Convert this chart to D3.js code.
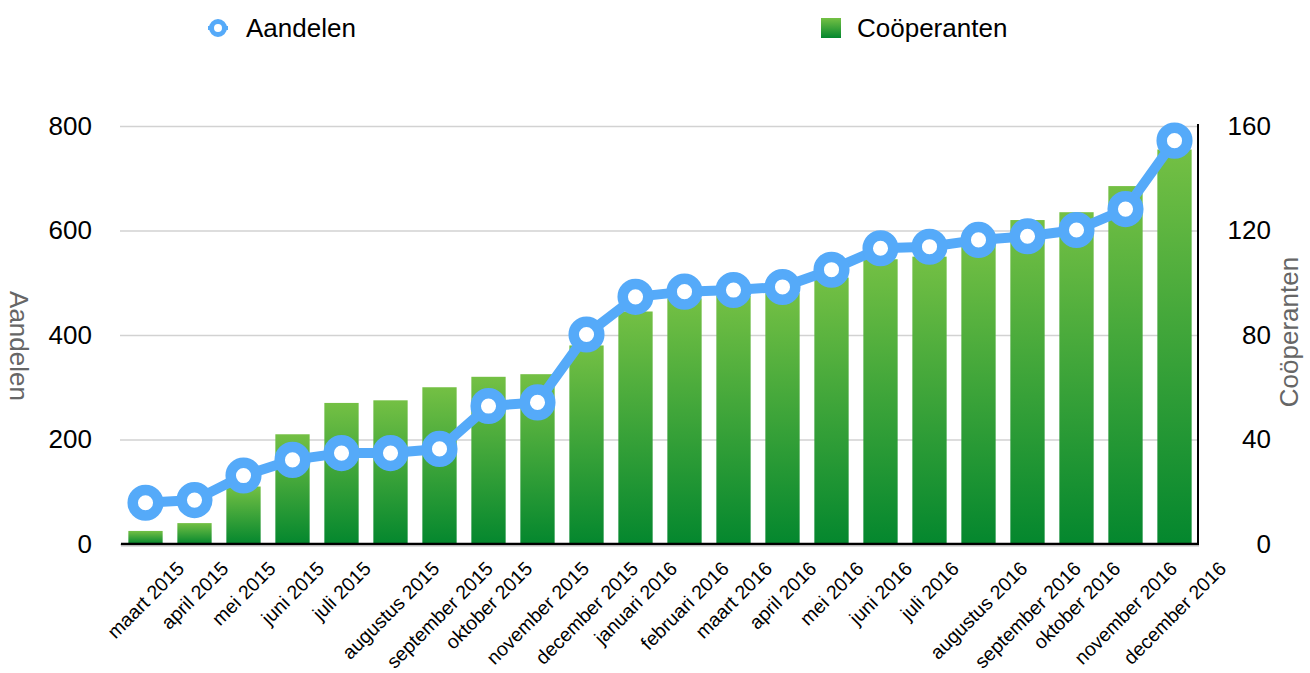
<!DOCTYPE html>
<html>
<head>
<meta charset="utf-8">
<script src="https://cdn.jsdelivr.net/npm/d3@7"></script>
<style>
  html, body { margin: 0; padding: 0; background: #fff; }
  svg { display: block; font-family: "Liberation Sans", Arial, Helvetica, sans-serif; }
</style>
</head>
<body>
<div id="chart"></div>
<script>
// month labels along the bottom
var months = ['maart 2015', 'april 2015', 'mei 2015', 'juni 2015', 'juli 2015',
  'augustus 2015', 'september 2015', 'oktober 2015', 'november 2015', 'december 2015',
  'januari 2016', 'februari 2016', 'maart 2016', 'april 2016', 'mei 2016',
  'juni 2016', 'juli 2016', 'augustus 2016', 'september 2016', 'oktober 2016',
  'november 2016', 'december 2016'];

// line series (left axis)
var aandelen = [79, 84, 131, 161, 174, 174, 182, 264, 271, 401, 473, 483,
  486, 492, 525, 566, 569, 582, 589, 601, 641, 772];

// bar series (right axis)
var cooperanten = [5, 8, 22, 42, 54, 55, 60, 64, 65, 76, 89, 94,
  95, 96, 102, 109, 110, 116, 124, 127, 137, 151];

var leftTicks = [0, 200, 400, 600, 800];
var rightTicks = [0, 40, 80, 120, 160];

var W = 1310, H = 673;
var plotLeft = 121, plotRight = 1199, plotTop = 126, plotBottom = 544;

var svg = d3.select('#chart').append('svg')
  .attr('width', W)
  .attr('height', H);

var defs = svg.append('defs');
var grad = defs.append('linearGradient')
  .attr('id', 'barGrad')
  .attr('x1', 0).attr('y1', 0).attr('x2', 0).attr('y2', 1);
grad.append('stop').attr('offset', '0%').attr('stop-color', '#74c044');
grad.append('stop').attr('offset', '100%').attr('stop-color', '#04872e');

var x = d3.scaleBand()
  .domain(months)
  .range([plotLeft, plotRight])
  .paddingInner(0.3)
  .paddingOuter(0.15);

var yL = d3.scaleLinear().domain([0, 800]).range([plotBottom, plotTop]);
var yR = d3.scaleLinear().domain([0, 160]).range([plotBottom, plotTop]);

// gridlines + left tick labels
var gL = svg.append('g')
  .attr('transform', 'translate(' + (plotLeft - 1) + ',0)')
  .call(d3.axisLeft(yL).tickValues(leftTicks).tickSize(-(plotRight - plotLeft)).tickPadding(28));
gL.select('.domain').remove();
gL.selectAll('line').attr('stroke', '#d2d2d2').attr('stroke-width', 1.5);
gL.selectAll('text')
  .attr('font-size', 26)
  .attr('fill', '#000');

// bars
svg.append('g').selectAll('rect')
  .data(cooperanten)
  .enter()
  .append('rect')
  .attr('x', function(d, i) { return x(months[i]); })
  .attr('width', x.bandwidth())
  .attr('y', function(d) { return yR(d); })
  .attr('height', function(d) { return yR(0) - yR(d); })
  .attr('fill', 'url(#barGrad)');

// right axis
var gR = svg.append('g')
  .attr('transform', 'translate(' + (plotRight - 1) + ',0)')
  .call(d3.axisRight(yR).tickValues(rightTicks).tickSize(0));
gR.select('.domain')
  .attr('d', 'M0,' + (plotTop - 2) + 'V' + (plotBottom + 1))
  .attr('stroke', '#000')
  .attr('stroke-width', 2);
gR.selectAll('text')
  .attr('font-size', 26)
  .attr('fill', '#000')
  .attr('text-anchor', 'end')
  .attr('x', 73);

// bottom axis
var xFont = 19.5;
var gX = svg.append('g')
  .attr('transform', 'translate(0,' + plotBottom + ')')
  .call(d3.axisBottom(x).tickSize(0));
gX.select('.domain')
  .attr('d', 'M' + plotLeft + ',0H' + plotRight)
  .attr('stroke', '#000')
  .attr('stroke-width', 2.5);
svg.append('line')
  .attr('x1', plotLeft).attr('x2', plotRight)
  .attr('y1', plotBottom + 2).attr('y2', plotBottom + 2)
  .attr('stroke', '#bbb').attr('stroke-width', 1);
gX.selectAll('text')
  .attr('font-size', xFont)
  .attr('fill', '#000')
  .attr('text-anchor', 'end')
  .attr('y', 0)
  .attr('dy', 0)
  .attr('transform', function() {
    var L = this.getComputedTextLength();
    var h = 0.72 * xFont;
    var ax = 0.7071 * (L + h) / 2;
    var ay = 16 + 0.7071 * h;
    return 'translate(' + ax + ',' + ay + ') rotate(-45)';
  });

// line + markers
var blue = '#55aaf9';
var line = d3.line()
  .x(function(d, i) { return x(months[i]) + x.bandwidth() / 2; })
  .y(function(d) { return yL(d); });

svg.append('path')
  .datum(aandelen)
  .attr('d', line)
  .attr('fill', 'none')
  .attr('stroke', blue)
  .attr('stroke-width', 10)
  .attr('stroke-linejoin', 'round');

svg.append('g').selectAll('circle')
  .data(aandelen)
  .enter()
  .append('circle')
  .attr('cx', function(d, i) { return x(months[i]) + x.bandwidth() / 2; })
  .attr('cy', function(d) { return yL(d); })
  .attr('r', 12.8)
  .attr('fill', '#fff')
  .attr('stroke', blue)
  .attr('stroke-width', 10.5);

// axis titles
svg.append('text')
  .attr('transform', 'translate(19,346) rotate(90)')
  .attr('text-anchor', 'middle')
  .attr('dy', '0.35em')
  .attr('font-size', 26)
  .attr('fill', '#666')
  .text('Aandelen');

svg.append('text')
  .attr('transform', 'translate(1289,332) rotate(-90)')
  .attr('text-anchor', 'middle')
  .attr('dy', '0.35em')
  .attr('font-size', 26)
  .attr('fill', '#666')
  .text('Coöperanten');

// legend
var lg = svg.append('g');
lg.append('line')
  .attr('x1', 208).attr('x2', 228)
  .attr('y1', 28).attr('y2', 28)
  .attr('stroke', blue).attr('stroke-width', 4);
lg.append('circle')
  .attr('cx', 218).attr('cy', 28).attr('r', 6.5)
  .attr('fill', '#fff')
  .attr('stroke', blue).attr('stroke-width', 5);
lg.append('text')
  .attr('x', 246).attr('y', 37)
  .attr('font-size', 26)
  .text('Aandelen');

lg.append('rect')
  .attr('x', 821).attr('y', 18)
  .attr('width', 20).attr('height', 20)
  .attr('fill', 'url(#barGrad)');
lg.append('text')
  .attr('x', 857).attr('y', 37)
  .attr('font-size', 26)
  .text('Coöperanten');
</script>
</body>
</html>
